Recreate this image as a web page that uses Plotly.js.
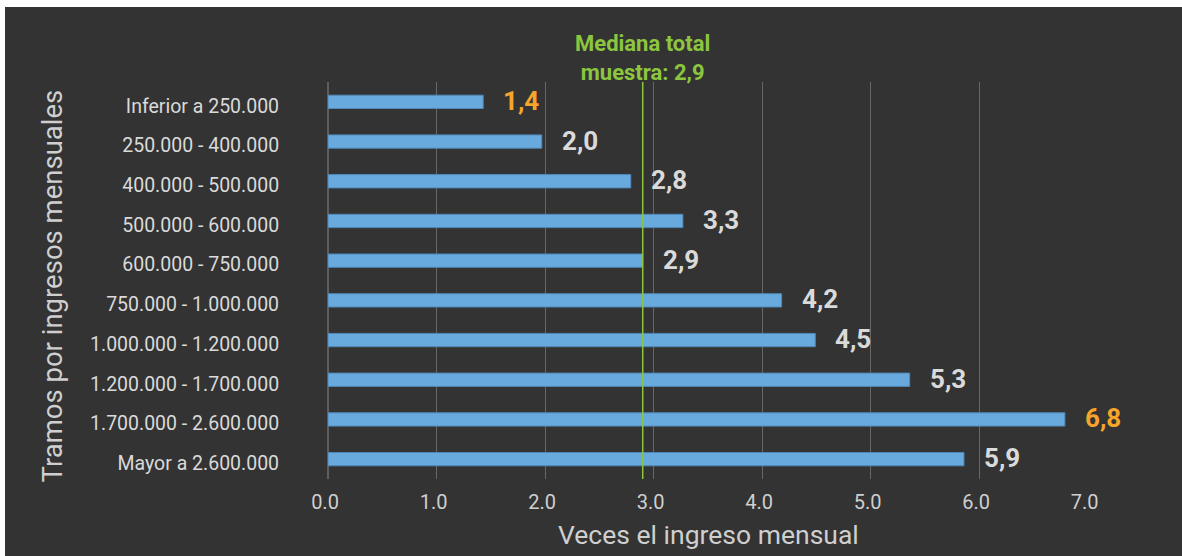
<!DOCTYPE html>
<html>
<head>
<meta charset="utf-8">
<script src="https://cdn.plot.ly/plotly-3.0.1.min.js"></script>
<style>
  html, body { margin: 0; padding: 0; background: #ffffff; width: 1182px; height: 556px; overflow: hidden; }
  #chart { position: absolute; left: 5px; top: 7px; width: 1177px; height: 549px; }
</style>
</head>
<body>
<div id="chart"></div>
<script>
// Data
const categories = [
  "Inferior a 250.000",
  "250.000 - 400.000",
  "400.000 - 500.000",
  "500.000 - 600.000",
  "600.000 - 750.000",
  "750.000 - 1.000.000",
  "1.000.000 - 1.200.000",
  "1.200.000 - 1.700.000",
  "1.700.000 - 2.600.000",
  "Mayor a 2.600.000"
];
const values = [1.43, 1.97, 2.79, 3.27, 2.90, 4.18, 4.49, 5.36, 6.79, 5.86];
const valueLabels = ["1,4", "2,0", "2,8", "3,3", "2,9", "4,2", "4,5", "5,3", "6,8", "5,9"];
const highlighted = ["Inferior a 250.000", "1.700.000 - 2.600.000"];
const medianValue = 2.9;
const medianText = "Mediana total<br>muestra: 2,9";
const xTickValues = [0, 1, 2, 3, 4, 5, 6, 7];
const xTickLabels = ["0.0", "1.0", "2.0", "3.0", "4.0", "5.0", "6.0", "7.0"];
const xTitle = "Veces el ingreso mensual";
const yTitle = "Tramos por ingresos mensuales";

const BG = "#333333";
const BAR = "#68aadd";
const TXT = "#dadada";
const ORANGE = "#f6a52b";
const GREEN = "#8cc63f";
const FONT = "Roboto, 'DejaVu Sans', sans-serif";

const trace = {
  type: "bar",
  orientation: "h",
  y: categories,
  x: values,
  marker: { color: BAR, line: { color: "#4f88b8", width: 1 } },
  hoverinfo: "skip",
  cliponaxis: false
};

const annotations = [];
categories.forEach((c, i) => {
  annotations.push({
    x: values[i], y: c, xref: "x", yref: "y",
    text: valueLabels[i],
    xanchor: "left", yanchor: "middle",
    xshift: 18, yshift: 1,
    showarrow: false,
    font: { family: FONT, size: 26, weight: "bold", color: highlighted.includes(c) ? ORANGE : TXT }
  });
});
annotations.push({
  x: medianValue, y: 1, xref: "x", yref: "paper",
  text: medianText, showarrow: false,
  xanchor: "center", yanchor: "bottom", yshift: -5,
  font: { family: FONT, size: 22, weight: "bold", color: GREEN }
});
annotations.push({
  x: 0.5, y: 0, xref: "paper", yref: "paper",
  text: xTitle, showarrow: false,
  xanchor: "center", yanchor: "middle", yshift: -55,
  font: { family: FONT, size: 26.5, color: "#cfcfcf" }
});
annotations.push({
  x: 0, y: 0.5, xref: "paper", yref: "paper",
  text: yTitle, showarrow: false, textangle: -90,
  xanchor: "center", yanchor: "middle", xshift: -276, yshift: -6,
  font: { family: FONT, size: 27.5, color: "#cfcfcf" }
});

const layout = {
  width: 1177, height: 549,
  paper_bgcolor: BG, plot_bgcolor: BG,
  margin: { l: 323, r: 94, t: 75, b: 77 },
  showlegend: false,
  bargap: 0.665,
  font: { family: FONT, color: TXT },
  xaxis: {
    range: [0, 7.003],
    tickvals: xTickValues, ticktext: xTickLabels,
    showgrid: true, gridcolor: "#676767", gridwidth: 1,
    zeroline: true, zerolinecolor: "#5e5e5e", zerolinewidth: 2,
    showline: false,
    ticks: "outside", ticklen: 5, tickcolor: "rgba(0,0,0,0)",
    ticklabelshift: -3,
    tickfont: { family: FONT, size: 20, color: "#cfcfcf" },
    fixedrange: true
  },
  yaxis: {
    type: "category",
    autorange: "reversed",
    showgrid: false, zeroline: false, showline: false,
    ticks: "outside", ticklen: 44, tickcolor: "rgba(0,0,0,0)",
    ticklabelshift: -4,
    tickfont: { family: FONT, size: 19.5, color: TXT },
    fixedrange: true
  },
  shapes: [{
    type: "line", xref: "x", yref: "paper",
    x0: medianValue, x1: medianValue, y0: 0, y1: 1,
    line: { color: GREEN, width: 1.5 }
  }],
  annotations: annotations
};

Plotly.newPlot("chart", [trace], layout, { displayModeBar: false, staticPlot: true });
</script>
</body>
</html>
